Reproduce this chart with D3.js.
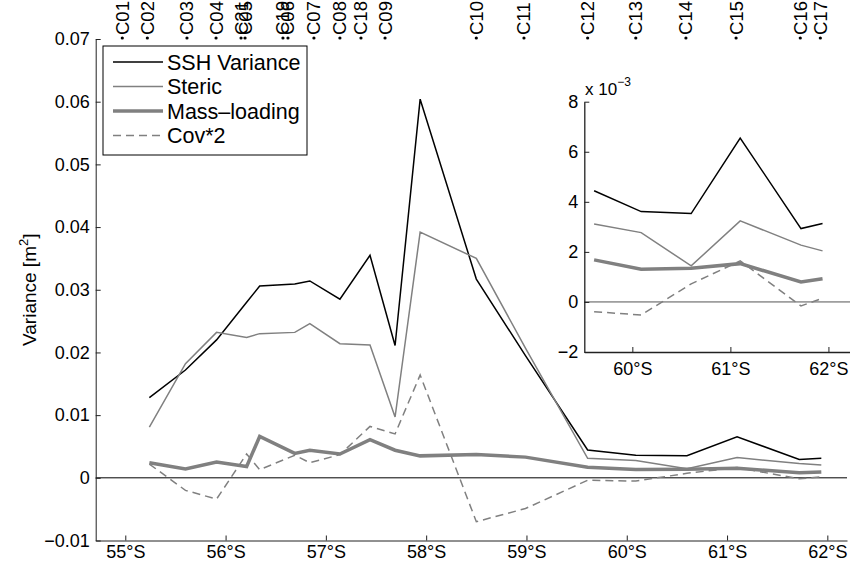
<!DOCTYPE html>
<html lang="en">
<head>
<meta charset="UTF-8">
<title>Variance by latitude</title>
<script src="https://d3js.org/d3.v7.min.js"></script>
<style>
    body { margin: 0; background: #fff; }
    svg text { font-family: "Liberation Sans", Arial, Helvetica, sans-serif; fill: #000; }
    .axis path, .axis line { stroke: #222; }
    .axis text { font-size: 18px; }
</style>
</head>
<body>
<svg id="chart" width="850" height="569"></svg>
<script>
// ---- data ----
const lat = [55.24, 55.60, 55.91, 56.21, 56.34, 56.69, 56.84, 57.14, 57.44, 57.69,
             57.94, 58.50, 58.99, 59.61, 60.09, 60.60, 61.10, 61.72, 61.94];
const ssh    = [0.0128, 0.0172, 0.0220, 0.0280, 0.0306, 0.0309, 0.0314, 0.0285, 0.0355, 0.0211,
                0.0604, 0.0317, 0.0195, 0.00444, 0.00361, 0.00353, 0.00655, 0.00293, 0.00313];
const steric = [0.0081, 0.0182, 0.0232, 0.0224, 0.0230, 0.0232, 0.0246, 0.0214, 0.0212, 0.0097,
                0.0392, 0.0350, 0.0207, 0.00311, 0.00277, 0.00144, 0.00324, 0.00227, 0.00204];
const mass   = [0.0024, 0.0014, 0.0025, 0.0018, 0.0066, 0.0039, 0.0044, 0.0038, 0.0061, 0.0044,
                0.0035, 0.0037, 0.0033, 0.00168, 0.00131, 0.00135, 0.00153, 0.00080, 0.00093];
const cov2   = [0.0022, -0.0020, -0.0034, 0.0038, 0.0013, 0.0036, 0.0024, 0.0037, 0.0082, 0.0070,
                0.0164, -0.0070, -0.0049, -0.00039, -0.00052, 0.00072, 0.00164, -0.00016, 0.00015];

const stations   = ["C01","C02","C03","C04","C21","C05","C19","C06","C07","C08",
                    "C18","C09","C10","C11","C12","C13","C14","C15","C16","C17"];
const stationLat = [54.97, 55.22, 55.615, 55.905, 56.154, 56.194, 56.572, 56.622, 56.881, 57.14,
                    57.35, 57.59, 58.50, 58.975, 59.61, 60.09, 60.59, 61.09, 61.73, 61.93];

const xTicks = [55, 56, 57, 58, 59, 60, 61, 62];
const yTicks = [-0.01, 0, 0.01, 0.02, 0.03, 0.04, 0.05, 0.06, 0.07];
const insetXTicks = [60, 61, 62];
const insetYTicks = [-2, 0, 2, 4, 6, 8];
const insetStart = 13; // first point shown in the zoomed panel

const series = [
    {name: "SSH Variance", values: ssh,    color: "#000",    width: 1.5, dash: null},
    {name: "Steric",       values: steric, color: "#808080", width: 1.5, dash: null},
    {name: "Mass\u2013loading", values: mass, color: "#808080", width: 3.5, dash: null},
    {name: "Cov*2",        values: cov2,   color: "#808080", width: 1.5, dash: "8,5"}
];

const svg = d3.select("#chart");

// ---- main axes ----
const x = d3.scaleLinear().domain([54.705, 62.196]).range([95.7, 847]);
const y = d3.scaleLinear().domain([-0.01, 0.07]).range([540.5, 39]);

svg.append("line")
    .attr("x1", x.range()[0]).attr("x2", x.range()[1])
    .attr("y1", y(0)).attr("y2", y(0))
    .attr("stroke", "#000").attr("stroke-width", 1);

const line = d3.line().x(d => x(d[0])).y(d => y(d[1]));
series.forEach(s => {
    svg.append("path")
        .datum(lat.map((l, i) => [l, s.values[i]]))
        .attr("d", line)
        .attr("fill", "none")
        .attr("stroke", s.color)
        .attr("stroke-width", s.width)
        .attr("stroke-dasharray", s.dash)
        .attr("stroke-linejoin", "miter");
});

svg.append("g").attr("class", "axis")
    .attr("transform", `translate(0,${y.range()[0]})`)
    .call(d3.axisBottom(x).tickValues(xTicks).tickSizeInner(-5).tickSizeOuter(0).tickPadding(5)
        .tickFormat(d => d + "\u00b0S"));

svg.append("g").attr("class", "axis")
    .attr("transform", `translate(${x.range()[0]},0)`)
    .call(d3.axisLeft(y).tickValues(yTicks).tickSizeInner(-5).tickSizeOuter(0).tickPadding(6)
        .tickFormat(d => d === 0 ? "0" : d3.format(".2f")(d)));

svg.append("text")
    .attr("transform", `translate(36,${(y.range()[0] + y.range()[1]) / 2}) rotate(-90)`)
    .attr("text-anchor", "middle")
    .attr("font-size", 19)
    .text("Variance [m")
    .call(t => t.append("tspan").attr("dy", -8).attr("font-size", 13).text("2"))
    .call(t => t.append("tspan").attr("dy", 8).text("]"));

// station labels on top
const stationG = svg.append("g");
stationG.selectAll("circle").data(stationLat).join("circle")
    .attr("cx", d => x(d)).attr("cy", 38).attr("r", 1.6).attr("fill", "#000");
stationG.selectAll("text").data(stations).join("text")
    .attr("transform", (d, i) => `translate(${x(stationLat[i])},35) rotate(-90)`)
    .attr("dy", "0.35em")
    .attr("font-size", 18.5)
    .text(d => d);

// legend
const legend = svg.append("g").attr("transform", "translate(103,46)");
legend.append("rect").attr("width", 204).attr("height", 109)
    .attr("fill", "#fff").attr("stroke", "#000").attr("stroke-width", 1);
series.forEach((s, i) => {
    const ly = 16 + i * 24.5;
    legend.append("line")
        .attr("x1", 10).attr("x2", 60).attr("y1", ly).attr("y2", ly)
        .attr("stroke", s.color).attr("stroke-width", s.width)
        .attr("stroke-dasharray", s.dash);
    legend.append("text")
        .attr("x", 64).attr("y", ly).attr("dy", "0.35em")
        .attr("font-size", 21.5)
        .text(s.name);
});

// ---- inset ----
const ix = d3.scaleLinear().domain([59.51, 62.22]).range([584.3, 850]);
const iy = d3.scaleLinear().domain([-2, 8]).range([352, 101.7]);

svg.append("rect")
    .attr("x", ix.range()[0]).attr("y", iy.range()[1])
    .attr("width", ix.range()[1] - ix.range()[0])
    .attr("height", iy.range()[0] - iy.range()[1])
    .attr("fill", "#fff");

svg.append("line")
    .attr("x1", ix.range()[0]).attr("x2", ix.range()[1])
    .attr("y1", iy(0)).attr("y2", iy(0))
    .attr("stroke", "#555").attr("stroke-width", 1);

const iline = d3.line().x(d => ix(d[0])).y(d => iy(d[1] * 1000));
series.forEach(s => {
    svg.append("path")
        .datum(lat.slice(insetStart).map((l, i) => [l, s.values[insetStart + i]]))
        .attr("d", iline)
        .attr("fill", "none")
        .attr("stroke", s.color)
        .attr("stroke-width", s.width)
        .attr("stroke-dasharray", s.dash);
});

svg.append("g").attr("class", "axis")
    .attr("transform", `translate(0,${iy.range()[0]})`)
    .call(d3.axisBottom(ix).tickValues(insetXTicks).tickSizeInner(-5).tickSizeOuter(0).tickPadding(10)
        .tickFormat(d => d + "\u00b0S"))
    .call(g => g.selectAll("text").attr("font-size", 19))
    .call(g => g.select(".domain").attr("stroke", "#000").attr("stroke-width", 1.3));

svg.append("g").attr("class", "axis")
    .attr("transform", `translate(${ix.range()[0]},0)`)
    .call(d3.axisLeft(iy).tickValues(insetYTicks).tickSizeInner(-5).tickSizeOuter(0).tickPadding(6)
        .tickFormat(d3.format("d")))
    .call(g => g.selectAll("text").attr("font-size", 19))
    .call(g => g.select(".domain").attr("stroke", "#000").attr("stroke-width", 1.3));

svg.append("text")
    .attr("x", 585).attr("y", 95)
    .attr("font-size", 17)
    .text("x 10")
    .call(t => t.append("tspan").attr("dy", -9).attr("font-size", 12).text("\u22123"));
</script>
</body>
</html>
